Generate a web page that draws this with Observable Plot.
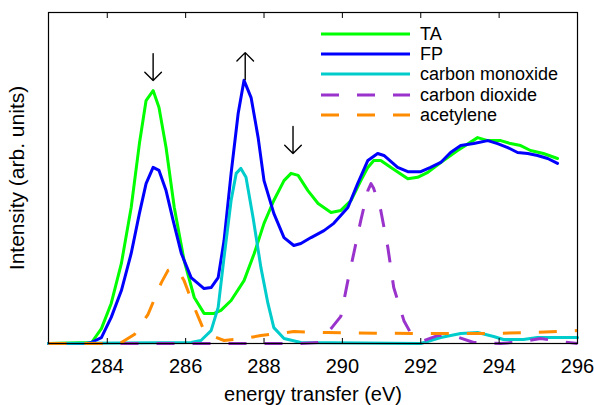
<!DOCTYPE html>
<html>
<head>
<meta charset="utf-8">
<script src="https://cdn.jsdelivr.net/npm/d3@7"></script>
<script src="https://cdn.jsdelivr.net/npm/@observablehq/plot@0.6"></script>
<style>
  html, body { margin: 0; padding: 0; background: #fff; }
  #wrap { position: relative; width: 594px; height: 405px; font-family: "Liberation Sans", Arial, sans-serif; }
  #legend { position: absolute; left: 0; top: 0; pointer-events: none; }
</style>
</head>
<body>
<div id="wrap"></div>
<script>
// ---- data (energy in eV, intensity in arbitrary units) ----
const taE = [282.5, 283.6, 283.85, 284.1, 284.36, 284.61, 284.82, 284.99, 285.17, 285.32, 285.5, 285.71, 285.96, 286.22, 286.47, 286.73, 286.9, 287.16, 287.49, 287.75, 288.0, 288.25, 288.51, 288.69, 288.87, 289.12, 289.38, 289.71, 289.96, 290.22, 290.47, 290.65, 290.8, 290.98, 291.24, 291.67, 291.92, 292.18, 292.51, 292.94, 293.45, 293.71, 294.04, 294.29, 294.55, 294.8, 295.13, 295.49];
const taI = [0, 0.3, 4.5, 12.1, 24.2, 41.1, 60.4, 73.4, 76.4, 71.3, 59.2, 41.1, 25.1, 13.9, 9.1, 9.1, 10.0, 13.0, 19.0, 27.2, 36.3, 43.2, 49.2, 51.4, 50.8, 46.2, 42.3, 39.6, 40.2, 43.2, 49.2, 53.2, 55.3, 55.3, 53.2, 49.8, 50.2, 51.7, 54.7, 58.3, 62.2, 61.3, 61.3, 60.4, 59.8, 58.3, 57.4, 55.9];

const fpE = [282.5, 283.47, 283.59, 283.85, 284.1, 284.36, 284.61, 284.82, 284.99, 285.17, 285.32, 285.5, 285.68, 285.89, 286.14, 286.47, 286.65, 286.83, 286.98, 287.16, 287.34, 287.49, 287.67, 287.85, 288.0, 288.25, 288.51, 288.76, 288.94, 289.2, 289.53, 289.78, 290.14, 290.39, 290.65, 290.9, 291.06, 291.41, 291.67, 292.0, 292.25, 292.51, 292.76, 293.02, 293.35, 293.71, 293.96, 294.22, 294.47, 294.73, 294.98, 295.24, 295.49];
const fpI = [0, 0, 0.3, 1.8, 7.9, 16.0, 27.2, 39.3, 48.3, 53.2, 52.3, 46.2, 37.2, 27.2, 19.9, 16.6, 16.9, 19.9, 31.1, 51.4, 69.5, 79.5, 74.3, 62.2, 49.2, 39.3, 32.0, 29.6, 30.2, 32.0, 34.1, 36.3, 41.1, 48.3, 55.3, 57.4, 56.8, 53.2, 51.9, 51.9, 53.2, 54.7, 57.7, 59.8, 60.4, 61.3, 60.4, 59.2, 57.7, 57.4, 56.8, 55.9, 54.4];

const coE = [282.5, 286.14, 286.39, 286.65, 286.83, 286.98, 287.16, 287.29, 287.41, 287.54, 287.72, 287.92, 288.1, 288.25, 288.51, 288.94, 292.0, 292.51, 293.02, 293.45, 293.86, 294.11, 294.62, 294.98, 296.0];
const coI = [0, 0.3, 0.9, 3.9, 10.9, 26.0, 43.2, 51.4, 52.9, 50.2, 38.1, 23.0, 12.1, 4.8, 1.5, 0.3, 0, 1.8, 3.0, 3.3, 2.1, 1.2, 1.2, 1.8, 1.8];

const co2E = [282.5, 288.94, 289.38, 289.71, 289.96, 290.14, 290.29, 290.47, 290.65, 290.73, 290.8, 290.98, 291.16, 291.31, 291.57, 291.75, 292.08, 292.43, 292.82, 293.35, 294.04, 294.6, 295.06, 295.57, 296.0];
const co2I = [0, 0, 0.3, 4.5, 8.2, 19.0, 27.2, 37.2, 46.2, 48.3, 46.8, 40.2, 29.0, 16.9, 6.9, 3.0, 0.9, 2.4, 2.4, 0.3, 0, 0.6, 1.5, 0.6, 0];

const acE = [282.5, 284.23, 284.36, 284.69, 285.04, 285.38, 285.55, 285.68, 285.81, 285.96, 286.22, 286.47, 286.65, 286.98, 287.49, 287.92, 288.76, 289.63, 291.82, 293.53, 294.8, 296.0];
const acI = [0, 0, 0.3, 2.7, 8.8, 18.4, 22.1, 22.9, 22.1, 19.0, 10.9, 3.9, 2.4, 0.9, 1.5, 2.4, 3.6, 3.3, 3.0, 3.0, 3.3, 3.9];

const seriesNames = ["TA", "FP", "carbon monoxide", "carbon dioxide", "acetylene"];
const seriesColors = ["#00ff00", "#0000ff", "#00cccc", "#9933cc", "#ff8c00"];
const seriesDash = [null, null, null, "18,18", "18,18"];

const xTicks = [284, 286, 288, 290, 292, 294, 296];

// peak-change annotations (arrow centre in data units, direction)
const arrowE = [285.17, 287.52, 288.74];
const arrowI = [83.5, 83.8, 61.5];
const arrowDir = ["down", "up", "down"];

// ---- build ----
const toRows = (E, I) => E.map((e, i) => ({e, v: I[i]}));
const seriesData = [toRows(taE, taI), toRows(fpE, fpI), toRows(coE, coI), toRows(co2E, co2I), toRows(acE, acI)];

const W = 594, H = 405;
const font = "'Liberation Sans', Arial, sans-serif";

const lines = seriesData.map((rows, k) => Plot.line(rows, {
  x: "e", y: "v",
  stroke: seriesColors[k], strokeWidth: 3,
  strokeDasharray: seriesDash[k] ?? undefined,
  strokeLinejoin: "round", strokeLinecap: seriesDash[k] ? "butt" : "round"
}));

// open-headed arrow shape (pointing "up" before rotation)
const arrowShape = {
  draw(context, l) {
    const h = 8.3;
    context.moveTo(0, l / 2);
    context.lineTo(0, -l / 2);
    context.moveTo(-h, -l / 2 + h);
    context.lineTo(0, -l / 2);
    context.lineTo(h, -l / 2 + h);
  }
};

const chart = Plot.plot({
  width: W, height: H,
  marginLeft: 48, marginRight: 17, marginTop: 12, marginBottom: 62,
  style: {fontFamily: font, fontSize: "20px", background: "white", overflow: "visible"},
  x: {domain: [282.5, 296]},
  y: {domain: [0, 100]},
  marks: [
    ...lines,
    Plot.vector(arrowE.map((e, i) => ({e, v: arrowI[i], dir: arrowDir[i]})), {
      x: "e", y: "v", length: 27, anchor: "start",
      rotate: (d) => d.dir === "down" ? 180 : 0,
      shape: arrowShape, stroke: "black", strokeWidth: 1.4
    }),
    Plot.frame({stroke: "black", strokeWidth: 1.2}),
    Plot.axisX({anchor: "bottom", ticks: xTicks, tickSize: -5, tickPadding: 20, fontSize: 20,
      label: "energy transfer (eV)", labelAnchor: "center", labelArrow: "none", labelOffset: 57}),
    Plot.axisX({anchor: "top", ticks: xTicks, tickSize: -5, tickFormat: () => "", label: null}),
    Plot.axisY({anchor: "left", ticks: [], label: "Intensity (arb. units)", labelAnchor: "center",
      labelArrow: "none", labelOffset: 39, fontSize: 21})
  ]
});

const wrap = document.getElementById("wrap");
wrap.appendChild(chart);

// legend overlay (inside the plot, top right, no box)
const legendRowY = [34, 54, 74, 95, 115];
const leg = d3.select(wrap).append("svg")
  .attr("id", "legend").attr("width", W).attr("height", H);
seriesNames.forEach((name, k) => {
  const y = legendRowY[k];
  leg.append("line")
    .attr("x1", 321).attr("x2", 410).attr("y1", y).attr("y2", y)
    .attr("stroke", seriesColors[k]).attr("stroke-width", 3)
    .attr("stroke-dasharray", seriesDash[k] ?? null);
  leg.append("text")
    .attr("x", 420).attr("y", y).attr("dy", "0.35em")
    .attr("font-family", font).attr("font-size", 18).attr("fill", "black")
    .text(name);
});
</script>
</body>
</html>
